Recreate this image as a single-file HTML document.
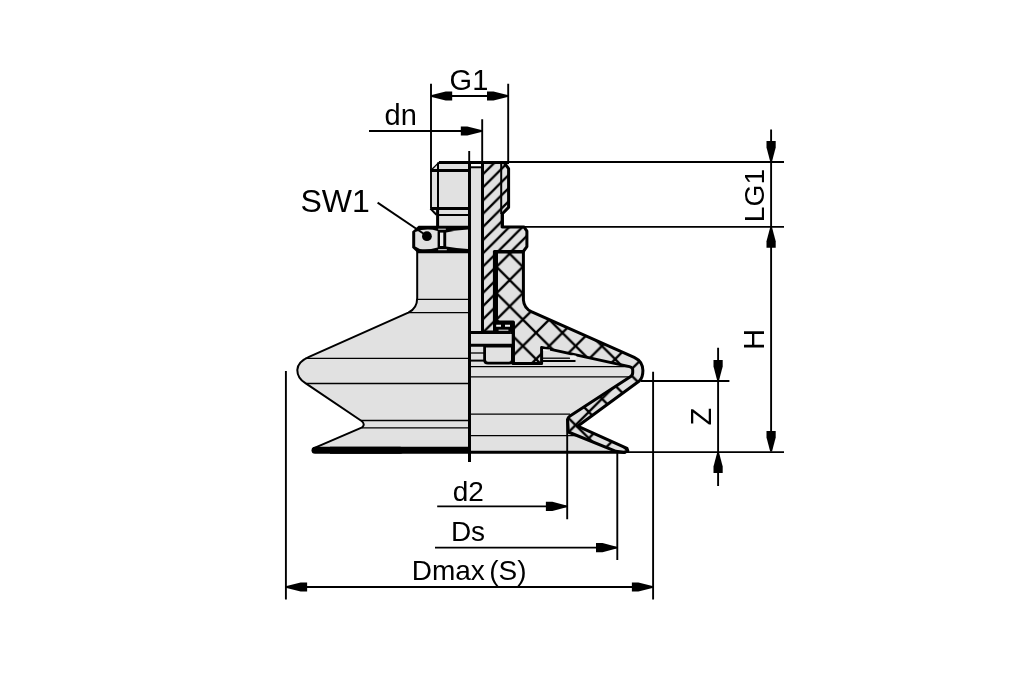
<!DOCTYPE html>
<html><head><meta charset="utf-8"><title>Drawing</title>
<style>
html,body{margin:0;padding:0;background:#fff;}
svg{display:block;will-change:transform;filter:grayscale(1);}
text{font-family:"Liberation Sans",Arial,sans-serif;fill:#000;}
.t{stroke:#000;stroke-width:3;fill:none;stroke-linejoin:round;stroke-linecap:butt}
.m{stroke:#000;stroke-width:2;fill:none;stroke-linejoin:round}
.n{stroke:#000;stroke-width:1.3;fill:none}
.d{stroke:#000;stroke-width:1.9;fill:none}
.g{fill:#e1e1e1;stroke:none}
.a{fill:#000;stroke:none}
</style></head><body>
<svg width="1010" height="673" viewBox="0 0 1010 673">
<rect width="1010" height="673" fill="#fff"/>
<defs>
<pattern id="h1" patternUnits="userSpaceOnUse" width="13.19" height="13.19" x="0" y="10.89">
<path d="M-1,1 L1,-1 M0,13.19 L13.19,0 M12.19,14.19 L14.19,12.19" stroke="#000" stroke-width="2.3"/>
</pattern>
<pattern id="h2" patternUnits="userSpaceOnUse" width="26.38" height="26.38" x="8.43" y="16.23">
<path d="M-1,1 L1,-1 M0,26.38 L26.38,0 M25.38,27.38 L27.38,25.38 M0,0 L26.38,26.38" stroke="#000" stroke-width="2.3"/>
</pattern>
</defs>

<path d="M469.5,250 L417.2,250 L417.2,298 Q417.2,308.5 408.3,312.7 L309,356.8 C300.5,360.5 297.3,364.5 297.3,370 C297.3,376 300,379.8 305.4,383.2 L361.6,421 Q364.2,423 363.6,425.2 Q363.2,426.8 361.6,427.6 L313.4,448.4 L313.4,452 L469.5,452 Z" class="g"/>
<path d="M438.9,162.4 L469.5,162.4 L469.5,250 L438,250 L437.6,214.5 L431,208.5 L431,170.4 Z" class="g"/>
<path d="M469.5,331 L513,340 L542,347 L632.7,367 L632.7,375.3 L567.9,418.7 L567.9,431 L611,450.5 L611,453 L469.5,453 Z" class="g"/>
<rect x="469.5" y="168.5" width="13" height="195" class="g"/>
<path d="M470.5,167.3 L482,167.3" class="m" stroke-width="2.4"/>
<path d="M482.5,162.4 L504,162.4 L508.6,168.6 L508.6,207.4 L502.4,213.7 L502.4,226.9 L524,226.9 L526.9,231.2 L526.9,246.6 L523.3,251.5 L494.7,251.5 L494.7,332 L482.5,332 Z" class="g"/>
<path d="M482.5,162.4 L504,162.4 L508.6,168.6 L508.6,207.4 L502.4,213.7 L502.4,226.9 L524,226.9 L526.9,231.2 L526.9,246.6 L523.3,251.5 L494.7,251.5 L494.7,332 L482.5,332 Z" fill="url(#h1)"/>
<path d="M496.5,252 L523.4,252 L523.4,300 Q524,308 531.3,311.6 L634.2,357.3 Q642.9,361.5 642.9,370.6 Q642.9,377.6 639.6,380.7 L577.6,426.2 L627,448.4 L627.8,450.8 L624,452.6 L616,451.3 L568.3,432 L567.6,419.3 Q568,417.3 570,416 L630.3,376.8 Q632.8,375.2 632.7,372.4 L632.7,369.6 Q632.6,367.4 629.5,366.6 L541.6,347.4 L541.6,363.4 L513.4,363.4 L513.4,322 L496.5,322 Z" class="g"/>
<path d="M496.5,252 L523.4,252 L523.4,300 Q524,308 531.3,311.6 L634.2,357.3 Q642.9,361.5 642.9,370.6 Q642.9,377.6 639.6,380.7 L577.6,426.2 L627,448.4 L627.8,450.8 L624,452.6 L616,451.3 L568.3,432 L567.6,419.3 Q568,417.3 570,416 L630.3,376.8 Q632.8,375.2 632.7,372.4 L632.7,369.6 Q632.6,367.4 629.5,366.6 L541.6,347.4 L541.6,363.4 L513.4,363.4 L513.4,322 L496.5,322 Z" fill="url(#h2)"/>
<path d="M496.5,252 L523.4,252 L523.4,300 Q524,308 531.3,311.6 L634.2,357.3 Q642.9,361.5 642.9,370.6 Q642.9,377.6 639.6,380.7 L577.6,426.2 L627,448.4 L627.8,450.8 L624,452.6 L616,451.3 L568.3,432 L567.6,419.3 Q568,417.3 570,416 L630.3,376.8 Q632.8,375.2 632.7,372.4 L632.7,369.6 Q632.6,367.4 629.5,366.6 L541.6,347.4 L541.6,363.4 L513.4,363.4 L513.4,322 L496.5,322 Z" class="t" stroke-width="3"/>
<path d="M494.4,251 L494.4,324" class="t" stroke-width="4.6"/>
<rect x="493" y="321.8" width="20.4" height="10" class="a"/>
<path d="M495.4,325.8 L501,325.8 M505,325.8 L510,325.8" stroke="#f2f2f2" stroke-width="1.9" fill="none"/>
<path d="M498.6,330.2 L508.4,330.2" stroke="#f2f2f2" stroke-width="1" fill="none"/>
<rect x="471" y="332" width="41.6" height="13" fill="#e1e1e1"/>
<path d="M469.5,332.4 L510.8,332.4 M469.5,345.2 L512.4,345.2" class="t" stroke-width="3"/>
<path d="M513.2,322 L513.2,364.8" class="t" stroke-width="2.7"/>
<path d="M512,322 L512,334" class="t" stroke-width="2.6"/>
<path d="M484.6,346 L484.6,359.7 Q484.6,363.2 488,363.2 L509,363.2 Q512.4,363.2 512.4,359.7 L512.4,346 Z" fill="#e1e1e1" stroke="#000" stroke-width="2.8"/>
<path d="M470,353 L484,353" class="n" stroke-width="1.6"/>
<path d="M470,360.6 L484,360.6" class="m"/>
<path d="M543,349.2 L550,349.4 L550,350.8 L543,350.4 Z" fill="#fff"/>
<path d="M543,358.2 L570,358.2" class="n"/>
<path d="M543,361 L575.5,361" class="m" stroke-width="1.7"/>
<ellipse cx="573.3" cy="357.2" rx="3.4" ry="2" fill="#f0f0f0"/>
<path d="M482.5,162.4 L504,162.4 L508.6,168.6 L508.6,207.4 L502.4,213.7 L502.4,226.9 L524,226.9 L526.9,231.2 L526.9,246.6 L523.3,251.5 L494.7,251.5 L494.7,332 L482.5,332 Z" class="t" stroke-width="2.7"/>
<path d="M501.2,162 L501.2,214" class="m" stroke-width="1.9"/>
<path d="M502.2,213 L502.2,227.8" class="t" stroke-width="3.2"/>
<path d="M493.6,251.5 L524,251.5" class="t" stroke-width="3"/>
<path d="M470,366.6 L632,366.6 M470,376.8 L631,376.8 M470,414.2 L570,414.2 M470,435.7 L576,435.7" class="n"/>
<path d="M469.5,452.2 L625.6,452.2" class="t" stroke-width="2.9"/>
<path d="M417.2,251 L417.2,298 Q417.2,308.5 408.3,312.7 L309,356.8 C300.5,360.5 297.3,364.5 297.3,370 C297.3,376 300,379.8 305.4,383.2 L361.6,421 Q364.2,423 363.6,425.2 Q363.2,426.8 361.6,427.6 L313.4,448.4" class="m" stroke-width="2.2"/>
<path d="M417,299.4 L469,299.4 M408.3,312.6 L469,312.6 M305,358.3 L469,358.3 M306.7,383.5 L469,383.5 M361,420.5 L469,420.5 M361.6,427.9 L469,427.9" class="n"/>
<path d="M315,450.3 L400,450.3" stroke="#000" stroke-width="7" fill="none" stroke-linecap="round"/>
<path d="M330,450.3 L469.5,450.3" stroke="#000" stroke-width="7" fill="none"/>
<path d="M438.9,162.4 L431,170.2" class="n" stroke-width="1.5"/>
<path d="M431,169 L431,208.5" class="d"/>
<path d="M430.4,208.6 L436.4,214.8" class="m" stroke-width="1.8"/>
<path d="M437.6,209 L437.6,226" class="t" stroke-width="2.6"/>
<path d="M438,162.4 L438,208" class="m" stroke-width="2"/>
<path d="M430.4,170.4 L469,170.4 M430.4,208.5 L469,208.5" class="t" stroke-width="2.9"/>
<path d="M438,215 L469,215" class="m"/>
<path d="M418.6,225.8 L469.5,225.8 L469.5,253.3 L418,253.3 L412.2,247.8 L412.2,231.4 Z" class="a"/>
<path d="M415.2,232 Q426.5,227.6 437.6,231 L437.6,247.5 Q428,250.2 419.8,249 L415.2,246.6 Z" class="g"/>
<rect x="440" y="232.6" width="3.3" height="13.4" fill="#ececec"/>
<path d="M438.2,229.2 L445.8,229.2 M438.2,249.7 L446.8,249.7" stroke="#fff" stroke-width="0.9"/>
<path d="M446.2,232.6 Q456,230 468.1,229.4 L468.1,249.1 Q456,248.5 446.2,246.6 Z" class="g"/>
<circle cx="426.9" cy="236.2" r="4.9" class="a"/>
<path d="M469.5,162 L469.5,462" class="t" stroke-width="2.9"/>
<path d="M482.5,162 L482.5,331" class="t" stroke-width="2.6"/>
<path d="M438.9,162.5 L509,162.5" class="t" stroke-width="3"/>
<path d="M431,83.8 L431,170 M508.2,83.8 L508.2,162 M431,96 L508.2,96" class="d"/>
<polygon class="a" points="431.7,95.1 445.7,91.4 452.2,91.4 452.2,100.6 445.7,100.6 431.7,96.9"/>
<polygon class="a" points="507.5,96.9 493.5,100.6 487.0,100.6 487.0,91.4 493.5,91.4 507.5,95.1"/>
<text x="449.6" y="89.9" font-size="29">G1</text>
<path d="M369,131 L482,131 M482.2,119.2 L482.2,162" class="d"/>
<path d="M469.2,151 L469.2,162" class="d"/>
<polygon class="a" points="481.3,131.9 467.3,135.6 460.8,135.6 460.8,126.4 467.3,126.4 481.3,130.1"/>
<text x="384.6" y="124.7" font-size="29">dn</text>
<text x="300.5" y="211.9" font-size="32">SW1</text>
<path d="M377.6,202.6 L427,236" class="d"/>
<path d="M509,162 L784,162 M502.4,226.9 L784,226.9 M771.1,129.6 L771.1,451 M625,452.1 L784,452.1" class="d" />
<polygon class="a" points="770.2,161.6 766.5,147.6 766.5,141.1 775.7,141.1 775.7,147.6 772.0,161.6"/>
<polygon class="a" points="772.0,227.2 775.7,241.2 775.7,247.7 766.5,247.7 766.5,241.2 770.2,227.2"/>
<polygon class="a" points="770.2,451.6 766.5,437.6 766.5,431.1 775.7,431.1 775.7,437.6 772.0,451.6"/>
<text transform="translate(763.6,222.2) rotate(-90)" font-size="28.2">LG1</text>
<text transform="translate(764,349.8) rotate(-90)" font-size="29">H</text>
<path d="M641,381 L729.4,381 M718.1,347.8 L718.1,486" class="d"/>
<polygon class="a" points="717.2,380.6 713.5,366.6 713.5,360.1 722.7,360.1 722.7,366.6 719.0,380.6"/>
<polygon class="a" points="719.0,452.6 722.7,466.6 722.7,473.1 713.5,473.1 713.5,466.6 717.2,452.6"/>
<text transform="translate(711.4,425.4) rotate(-90)" font-size="29">Z</text>
<path d="M437.2,506.4 L567,506.4 M567.2,419 L567.2,519.2" class="d"/>
<polygon class="a" points="566.4,507.3 552.4,511.0 545.9,511.0 545.9,501.8 552.4,501.8 566.4,505.5"/>
<text x="452.8" y="500.5" font-size="28">d2</text>
<path d="M435,547.6 L617.3,547.6 M617.3,452 L617.3,560" class="d"/>
<polygon class="a" points="616.5,548.5 602.5,552.2 596.0,552.2 596.0,543.0 602.5,543.0 616.5,546.7"/>
<text x="450.9" y="541" font-size="28">Ds</text>
<path d="M285.9,371 L285.9,599.6 M653.1,371.7 L653.1,599.6 M285.9,587 L653.1,587" class="d"/>
<polygon class="a" points="286.6,586.1 300.6,582.4 307.1,582.4 307.1,591.6 300.6,591.6 286.6,587.9"/>
<polygon class="a" points="652.4,587.9 638.4,591.6 631.9,591.6 631.9,582.4 638.4,582.4 652.4,586.1"/>
<text x="411.7" y="580.4" font-size="28" dx="0 0 0 0 4.3">Dmax(S)</text>
</svg></body></html>
